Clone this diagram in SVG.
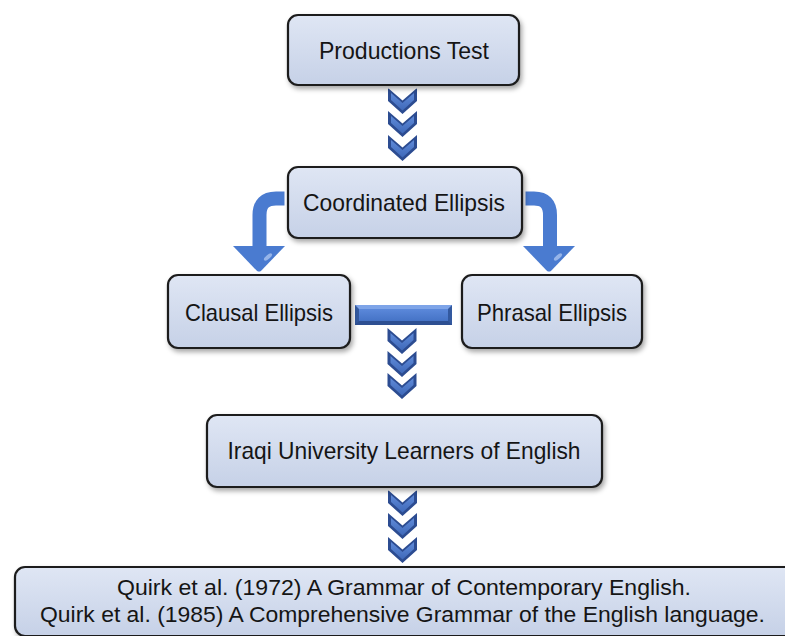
<svg xmlns="http://www.w3.org/2000/svg" xmlns:xlink="http://www.w3.org/1999/xlink" width="785" height="636" viewBox="0 0 785 636">
<defs>
  <linearGradient id="boxFill" x1="0" y1="0" x2="0" y2="1">
    <stop offset="0" stop-color="#dfe6f4"/>
    <stop offset="1" stop-color="#c6d1e7"/>
  </linearGradient>
  <linearGradient id="chevFace" x1="0" y1="0" x2="0" y2="1">
    <stop offset="0" stop-color="#5f8ad8"/>
    <stop offset="1" stop-color="#3f69b9"/>
  </linearGradient>
  <linearGradient id="barFace" x1="0" y1="0" x2="0" y2="1">
    <stop offset="0" stop-color="#5b88da"/>
    <stop offset="1" stop-color="#4573c6"/>
  </linearGradient>
  <filter id="shadow" x="-10%" y="-20%" width="120%" height="150%">
    <feDropShadow dx="2" dy="3" stdDeviation="2.5" flood-color="#000" flood-opacity="0.35"/>
  </filter>
  <g id="chev">
    <polygon points="0,0 14.5,12.5 29,0 29,13 14.5,26 0,13" fill="#2c4c91"/>
    <polygon points="3,5 14.5,15 26,5 26,12 14.5,22.5 3,12" fill="url(#chevFace)"/>
  </g>
  <style>
    .box { fill: url(#boxFill); stroke: #1c1c1c; stroke-width: 2.2; }
    .halo { fill: #ffffff; stroke: #ffffff; stroke-width: 7; }
    .lbl { font-family: "Liberation Sans", Arial, sans-serif; font-size: 24px; fill: #151515; text-anchor: middle; }
    .lbl2 { font-family: "Liberation Sans", Arial, sans-serif; font-size: 22px; fill: #151515; text-anchor: middle; }
    .shaft { fill: none; stroke: #4a7bd0; stroke-width: 14; stroke-linejoin: round; }
    .head { fill: #4a7bd0; }
  </style>
</defs>
<rect width="785" height="636" fill="#ffffff"/>

<g id="connectors">
  <use xlink:href="#chev" x="388" y="88"/>
  <use xlink:href="#chev" x="388" y="111"/>
  <use xlink:href="#chev" x="388" y="135"/>
  <path class="shaft" d="M 292,198.5 L 276,198.5 Q 259.5,198.5 259.5,215 L 259.5,250"/>
  <polygon class="head" points="233,246 285,246 259,273"/>
  <ellipse cx="268" cy="257" rx="5" ry="2" transform="rotate(-40 268 257)" fill="#a9c3ef" opacity="0.8"/>
  <path class="shaft" d="M 518,198.5 L 534,198.5 Q 550,198.5 550,215 L 550,250"/>
  <polygon class="head" points="523,246 575,246 549,273"/>
  <ellipse cx="558" cy="257" rx="5" ry="2" transform="rotate(-40 558 257)" fill="#a9c3ef" opacity="0.8"/>
  <rect x="355" y="305" width="97" height="20" fill="#33599f"/>
  <polygon points="355,305 452,305 448,309 359,309" fill="#7ea4e8"/>
  <rect x="359" y="309" width="89" height="12" fill="url(#barFace)"/>
  <polygon points="355,325 452,325 448,321 359,321" fill="#2d4f92"/>
  <use xlink:href="#chev" x="387.5" y="328"/>
  <use xlink:href="#chev" x="387.5" y="351"/>
  <use xlink:href="#chev" x="387.5" y="373"/>
  <use xlink:href="#chev" x="388" y="490"/>
  <use xlink:href="#chev" x="388" y="513"/>
  <use xlink:href="#chev" x="388" y="537"/>
</g>

<g id="node-productions">
  <rect class="halo" x="288" y="15" width="231" height="70" rx="10"/>
  <rect class="box" x="288" y="15" width="231" height="70" rx="10" filter="url(#shadow)"/>
  <text class="lbl" x="404" y="59" textLength="170" lengthAdjust="spacingAndGlyphs">Productions Test</text>
</g>

<g id="node-coordinated">
  <rect class="halo" x="288" y="167" width="234" height="71" rx="10"/>
  <rect class="box" x="288" y="167" width="234" height="71" rx="10" filter="url(#shadow)"/>
  <text class="lbl" x="404" y="211" textLength="202" lengthAdjust="spacingAndGlyphs">Coordinated Ellipsis</text>
</g>

<g id="node-clausal">
  <rect class="halo" x="168" y="275" width="182" height="73" rx="10"/>
  <rect class="box" x="168" y="275" width="182" height="73" rx="10" filter="url(#shadow)"/>
  <text class="lbl" x="259" y="321" textLength="148" lengthAdjust="spacingAndGlyphs">Clausal Ellipsis</text>
</g>

<g id="node-phrasal">
  <rect class="halo" x="462" y="275" width="180" height="73" rx="10"/>
  <rect class="box" x="462" y="275" width="180" height="73" rx="10" filter="url(#shadow)"/>
  <text class="lbl" x="552" y="321" textLength="150" lengthAdjust="spacingAndGlyphs">Phrasal Ellipsis</text>
</g>

<g id="node-iraqi">
  <rect class="halo" x="207" y="415" width="395" height="72" rx="10"/>
  <rect class="box" x="207" y="415" width="395" height="72" rx="10" filter="url(#shadow)"/>
  <text class="lbl" x="404" y="459" textLength="353" lengthAdjust="spacingAndGlyphs">Iraqi University Learners of English</text>
</g>

<g id="node-quirk">
  <rect class="halo" x="15" y="567" width="800" height="69" rx="10"/>
  <rect class="box" x="15" y="567" width="800" height="69" rx="10" filter="url(#shadow)"/>
  <text class="lbl2" x="404" y="595" textLength="574" lengthAdjust="spacingAndGlyphs">Quirk et al. (1972) A Grammar of Contemporary English.</text>
  <text class="lbl2" x="402.5" y="622" textLength="725" lengthAdjust="spacingAndGlyphs">Quirk et al. (1985) A Comprehensive Grammar of the English language.</text>
</g>
</svg>
